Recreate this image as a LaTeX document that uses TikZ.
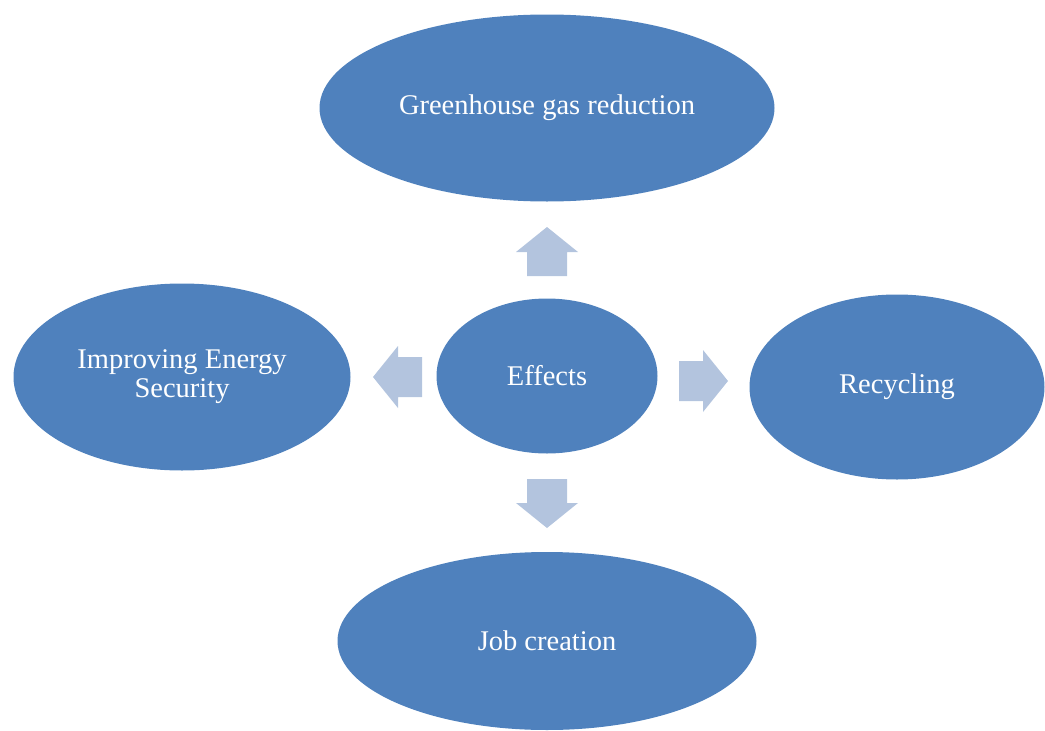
\documentclass[tikz,border=0pt]{standalone}
\usepackage{fontspec}
\setmainfont{Liberation Serif}
\usetikzlibrary{shapes.geometric}
\definecolor{effblue}{HTML}{4F81BD}
\definecolor{arrowblue}{HTML}{B3C4DE}
\tikzset{
  bubble/.style={draw=none,ellipse,fill=effblue,text=white,align=center,inner sep=0pt,
    font=\fontsize{28.5}{29}\selectfont},
  blockarrow/.style={fill=arrowblue,draw=none}
}
% block arrow: #1 = centre (head base), #2 = rotation
\newcommand{\effarrow}[2]{%
  \fill[blockarrow,shift={(#1)},rotate=#2] (0,-25) -- (31,0) -- (20,0) -- (20,24)
    -- (-20,24) -- (-20,0) -- (-31,0) -- cycle;}

\begin{document}
\begin{tikzpicture}[x=1pt,y=-1pt]
\useasboundingbox (0,0) rectangle (1045,731);
\node[bubble,minimum width=455pt,minimum height=187pt] (ghg) at (547,108) {Greenhouse gas reduction};
\node[bubble,minimum width=337pt,minimum height=187pt] (sec) at (182,377) {Improving Energy\\Security};
\node[bubble,minimum width=221pt,minimum height=155pt] (eff) at (547,376) {Effects};
\node[bubble,minimum width=295pt,minimum height=185pt] (rec) at (897,387) {Recycling};
\node[bubble,minimum width=419pt,minimum height=178pt] (job) at (547,641) {Job creation};
\effarrow{547,252}{0}
\effarrow{398,377}{90}
\effarrow{703,381}{-90}
\effarrow{547,503}{180}
\end{tikzpicture}
\end{document}
